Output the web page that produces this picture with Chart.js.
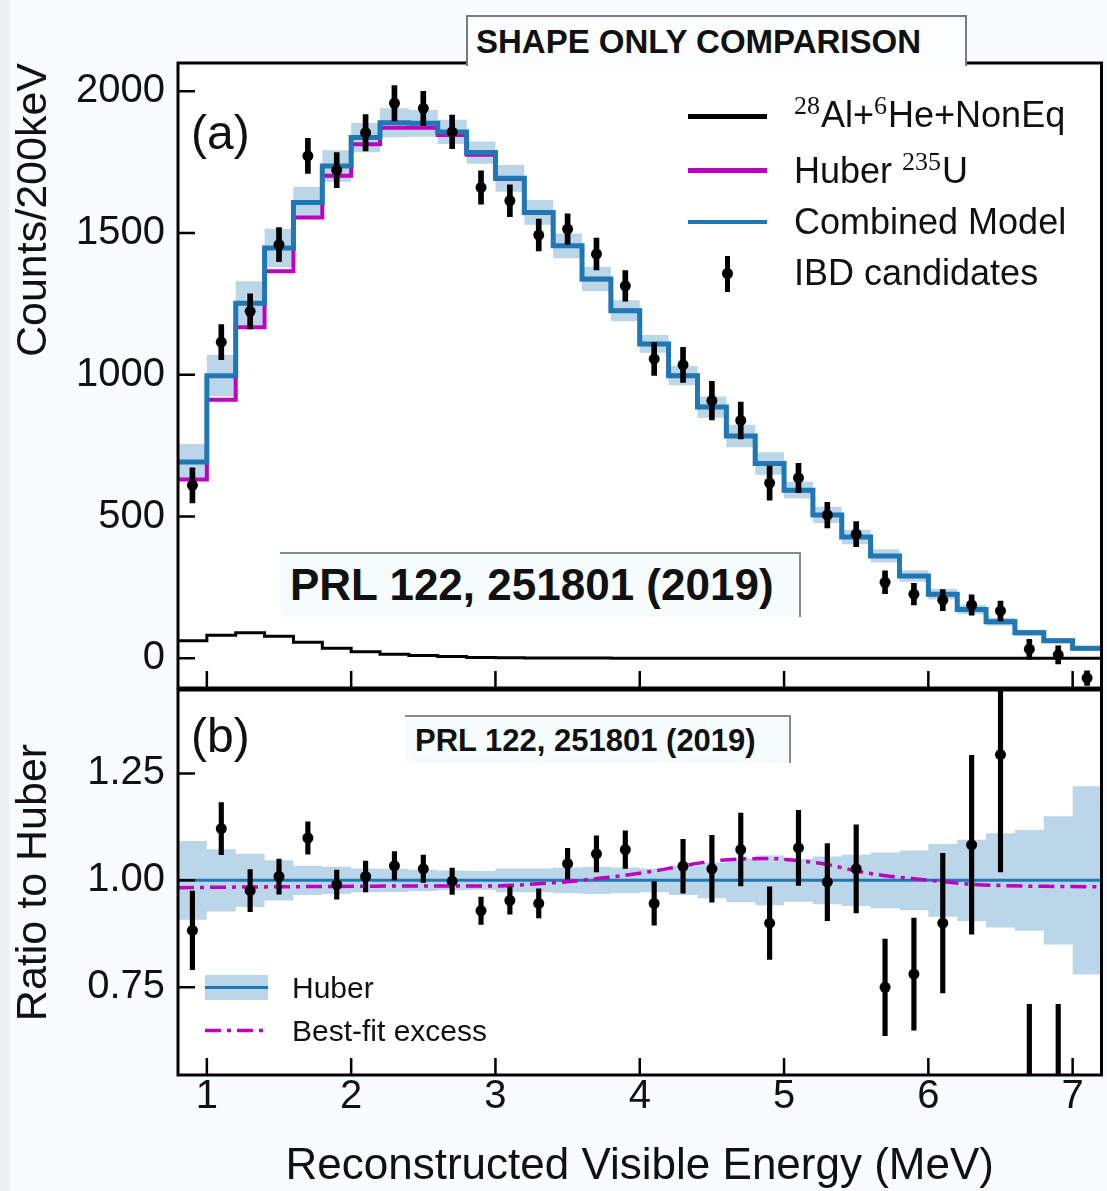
<!DOCTYPE html>
<html>
<head>
<meta charset="utf-8">
<title>Shape only comparison</title>
<script src="https://cdn.jsdelivr.net/npm/chart.js@4.4.1/dist/chart.umd.min.js"></script>
<style>
  html, body { margin: 0; padding: 0; }
  body {
    width: 1107px; height: 1191px; position: relative; overflow: hidden;
    background: #f8fcfe; color: #111;
    font-family: 'Liberation Sans', Arial, Helvetica, sans-serif;
  }
  canvas { position: absolute; left: 0; top: 0; }
  .edge { position: absolute; left: 0; top: 0; width: 9px; height: 1191px; background: #eceeef; }
  .txt { position: absolute; white-space: nowrap; line-height: 1; }
  .sup { font-family: 'Liberation Serif', 'Times New Roman', serif; font-size: 26px; position: relative; top: -13px; margin-right: 1px; }
  .box { position: absolute; background: #f7fdff; }
  .sw { position: absolute; }
</style>
</head>
<body>
<div class="edge"></div>
<canvas id="spectrumChart" width="1107" height="1191"></canvas>
<canvas id="ratioChart" width="1107" height="1191"></canvas>

<!-- panel headers and tags -->
<div class="box" style="left:466px; top:15px; width:497px; height:49px; background:#fbfeff; border:2px solid #7a7a7a; border-bottom:none;"></div>
<div class="txt" style="left:476px; top:25px; font-size:33px; font-weight:bold;">SHAPE ONLY COMPARISON</div>
<div class="txt" style="left:191px; top:109px; font-size:48px;">(a)</div>
<div class="txt" style="left:191px; top:712px; font-size:48px;">(b)</div>

<div class="box" style="left:280px; top:552px; width:519px; height:63px; border-top:2px solid #8a8a8a; border-right:2px solid #8a8a8a;"></div>
<div class="txt" style="left:290px; top:563px; font-size:44px; font-weight:bold;">PRL 122, 251801 (2019)</div>
<div class="box" style="left:405px; top:715px; width:384px; height:46px; border-top:2px solid #8a8a8a; border-right:2px solid #8a8a8a;"></div>
<div class="txt" style="left:415px; top:725px; font-size:31px; font-weight:bold;">PRL 122, 251801 (2019)</div>

<!-- legend, spectrum panel -->
<div class="sw" style="left:688px; top:114px; width:79px; height:5px; background:#000;"></div>
<div class="sw" style="left:688px; top:168px; width:79px; height:5px; background:#c000c0;"></div>
<div class="sw" style="left:688px; top:220px; width:79px; height:4px; background:#1f77b4;"></div>
<div class="sw" style="left:725px; top:256px; width:5px; height:36px; background:#000;"></div>
<div class="sw" style="left:722px; top:268px; width:11px; height:11px; border-radius:50%; background:#000;"></div>
<div class="txt" style="left:794px; top:97px; font-size:36px;"><span class="sup">28</span>Al+<span class="sup">6</span>He+NonEq</div>
<div class="txt" style="left:794px; top:153px; font-size:36px;">Huber <span class="sup">235</span>U</div>
<div class="txt" style="left:794px; top:204px; font-size:36px;">Combined Model</div>
<div class="txt" style="left:794px; top:255px; font-size:36px;">IBD candidates</div>

<!-- legend, ratio panel -->
<div class="sw" style="left:205px; top:975px; width:63px; height:25px; background:rgba(31,119,180,0.3);"></div>
<div class="sw" style="left:205px; top:986px; width:63px; height:3px; background:#1f77b4;"></div>
<svg class="sw" style="left:205px; top:1027px;" width="63" height="7"><line x1="0" y1="3.5" x2="63" y2="3.5" stroke="#c000c0" stroke-width="3.5" stroke-dasharray="16 6 4 6"/></svg>
<div class="txt" style="left:292px; top:973px; font-size:30px;">Huber</div>
<div class="txt" style="left:292px; top:1016px; font-size:30px;">Best-fit excess</div>

<script>
// 200 keV bins: lower edges plus the last upper edge
const binEdges = [0.8, 1.0, 1.2, 1.4, 1.6, 1.8, 2.0, 2.2, 2.4, 2.6, 2.8, 3.0, 3.2, 3.4, 3.6, 3.8,
                  4.0, 4.2, 4.4, 4.6, 4.8, 5.0, 5.2, 5.4, 5.6, 5.8, 6.0, 6.2, 6.4, 6.6, 6.8, 7.0, 7.2];
const binCenters = [0.9, 1.1, 1.3, 1.5, 1.7, 1.9, 2.1, 2.3, 2.5, 2.7, 2.9, 3.1, 3.3, 3.5, 3.7, 3.9,
                    4.1, 4.3, 4.5, 4.7, 4.9, 5.1, 5.3, 5.5, 5.7, 5.9, 6.1, 6.3, 6.5, 6.7, 6.9, 7.1];

// counts per bin
const bkgCounts   = [62, 81, 90, 78, 56, 35, 23, 14, 10, 6, 3, 2, 1, 1, 1, 0,
                     0, 0, 0, 0, 0, 0, 0, 0, 0, 0, 0, 0, 0, 0, 0, 0];
const huberCounts = [631, 912, 1168, 1365, 1555, 1702, 1813, 1872, 1872, 1846, 1776, 1691, 1572, 1454, 1337, 1226,
                     1109, 997, 886, 784, 687, 593, 505, 428, 361, 290, 226, 172, 129, 90, 62, 35];
const modelCounts = [692, 997, 1252, 1447, 1608, 1737, 1837, 1889, 1887, 1857, 1784, 1693, 1573, 1455, 1338, 1226,
                     1109, 997, 886, 784, 687, 593, 505, 428, 361, 290, 226, 172, 129, 90, 62, 35];
const ibdCounts   = [610, 1115, 1224, 1459, 1772, 1722, 1854, 1958, 1940, 1857, 1661, 1614, 1493, 1514, 1426, 1314,
                     1056, 1035, 909, 839, 618, 636, 505, 438, 268, 226, 205, 188, 167, 32, 12, -70];
const ibdErrors   = [62, 62, 62, 60, 62, 62, 64, 62, 60, 59, 59, 56, 56, 54, 56, 54,
                     58, 62, 68, 65, 60, 52, 45, 44, 40, 38, 37, 36, 35, 35, 32, 26];

// Huber model relative uncertainty per bin
const huberRelErr = [0.092, 0.073, 0.062, 0.047, 0.034, 0.032, 0.028, 0.027, 0.025, 0.023, 0.022, 0.028, 0.028, 0.030, 0.032, 0.030,
                     0.028, 0.034, 0.042, 0.051, 0.058, 0.050, 0.056, 0.060, 0.065, 0.070, 0.085, 0.095, 0.110, 0.118, 0.150, 0.220];

// data / model ratio
const ratioValues = [0.883, 1.121, 0.976, 1.009, 1.099, 0.990, 1.009, 1.034, 1.027, 0.998, 0.929, 0.953, 0.946, 1.039, 1.062, 1.072,
                     0.946, 1.033, 1.027, 1.072, 0.900, 1.076, 0.996, 1.027, 0.750, 0.781, 0.900, 1.083, 1.294, 0.33, 0.19, -2.0];
const ratioErrors = [0.092, 0.061, 0.049, 0.041, 0.038, 0.034, 0.036, 0.033, 0.032, 0.031, 0.032, 0.032, 0.034, 0.036, 0.042, 0.044,
                     0.051, 0.063, 0.078, 0.085, 0.085, 0.088, 0.090, 0.103, 0.113, 0.131, 0.163, 0.209, 0.274, 0.38, 0.52, 0.74];

// best-fit excess curve
const excessEnergy = [0.8, 1.5, 2.0, 2.5, 3.0, 3.3, 3.5, 3.7, 3.9, 4.1, 4.3, 4.5, 4.7, 4.9, 5.1, 5.3, 5.5, 5.7, 5.9, 6.1, 6.3, 6.5, 6.8, 7.2];
const excessRatio  = [0.983, 0.985, 0.986, 0.987, 0.987, 0.992, 0.997, 1.004, 1.012, 1.022, 1.034, 1.045, 1.050, 1.051, 1.046, 1.037,
                      1.022, 1.011, 1.004, 0.997, 0.991, 0.988, 0.986, 0.985];

// axis ticks
const energyTicks = [1, 2, 3, 4, 5, 6, 7];
const countTicks = [0, 500, 1000, 1500, 2000];
const ratioTicks = [0.75, 1.00, 1.25];

const FONT = "'Liberation Sans', Arial, Helvetica, sans-serif";
const BLUE = '#1f77b4';
const MAGENTA = '#c000c0';
const BAND = 'rgba(31,119,180,0.3)';

// histogram line: each value held from its lower edge to the next edge
function stepData(values) {
    return binEdges.map((x, i) => ({ x, y: values[Math.min(i, values.length - 1)] }));
}

function errorBars(values, errors) {
    return binCenters.map((x, i) => ({ x, y: [values[i] - errors[i], values[i] + errors[i]] }));
}

function dots(values) {
    return binCenters.map((x, i) => ({ x, y: values[i] }));
}

function stepLine(values, color, width, order) {
    return {
        data: stepData(values), stepped: true, borderColor: color, borderWidth: width,
        pointRadius: 0, fill: false, borderJoinStyle: 'miter', order
    };
}

// white plot area, black frame with inward ticks
const framePlugin = {
    id: 'frame',
    beforeDraw(chart) {
        const { ctx, chartArea: a } = chart;
        ctx.save();
        ctx.fillStyle = '#fff';
        ctx.fillRect(a.left, a.top, a.right - a.left, a.bottom - a.top);
        ctx.restore();
    },
    afterDraw(chart, args, opts) {
        const { ctx, chartArea: a, scales } = chart;
        ctx.save();
        ctx.strokeStyle = '#000';
        ctx.lineWidth = 2.5;
        ctx.beginPath();
        energyTicks.forEach(v => {
            const px = scales.x.getPixelForValue(v);
            ctx.moveTo(px, a.bottom);
            ctx.lineTo(px, a.bottom - 17);
        });
        opts.yTicks.forEach(v => {
            const py = scales.y.getPixelForValue(v);
            ctx.moveTo(a.left, py);
            ctx.lineTo(a.left + 17, py);
        });
        ctx.stroke();
        ctx.lineWidth = 3;
        ctx.strokeRect(a.left, a.top, a.right - a.left, a.bottom - a.top);
        ctx.restore();
    }
};

function yAxis(min, max, ticks, fmt, title, align) {
    return {
        type: 'linear', min, max,
        grid: { display: false, drawTicks: false },
        border: { display: false },
        afterBuildTicks: s => { s.ticks = ticks.map(v => ({ value: v })); },
        afterFit: s => { s.width = 178; },
        ticks: { font: { family: FONT, size: 40 }, color: '#111', padding: 13, callback: fmt },
        title: {
            display: true, text: title, align, color: '#111',
            font: { family: FONT, size: 43, lineHeight: 1 }, padding: { top: 13, bottom: 0 }
        }
    };
}

// Spectrum panel
new Chart(document.getElementById('spectrumChart'), {
    type: 'line',
    data: {
        datasets: [
            { data: stepData(modelCounts.map((v, i) => v * (1 - huberRelErr[i]))), stepped: true, borderWidth: 0, pointRadius: 0, fill: false, order: 10 },
            { data: stepData(modelCounts.map((v, i) => v * (1 + huberRelErr[i]))), stepped: true, borderWidth: 0, pointRadius: 0, fill: '-1', backgroundColor: BAND, order: 10 },
            stepLine(bkgCounts, '#000', 3, 8),
            stepLine(huberCounts, MAGENTA, 4, 7),
            stepLine(modelCounts, BLUE, 5, 6),
            { type: 'bar', data: errorBars(ibdCounts, ibdErrors), backgroundColor: '#000', barThickness: 5, order: 2 },
            { data: dots(ibdCounts), showLine: false, pointRadius: 5.5, pointBorderWidth: 0, pointBackgroundColor: '#000', order: 1 }
        ]
    },
    options: {
        responsive: false, animation: false, devicePixelRatio: 1,
        layout: { padding: { left: 0, right: 4, top: 63, bottom: 503 } },
        plugins: { legend: { display: false }, tooltip: { enabled: false }, frame: { yTicks: countTicks } },
        scales: {
            x: { type: 'linear', min: 0.8, max: 7.2, offset: false, display: false },
            y: yAxis(-105, 2100, countTicks, v => String(v), 'Counts/200keV', 'end')
        }
    },
    plugins: [framePlugin]
});

// Ratio panel
new Chart(document.getElementById('ratioChart'), {
    type: 'line',
    data: {
        datasets: [
            { data: stepData(huberRelErr.map(e => 1 - e)), stepped: true, borderWidth: 0, pointRadius: 0, fill: false, order: 10 },
            { data: stepData(huberRelErr.map(e => 1 + e)), stepped: true, borderWidth: 0, pointRadius: 0, fill: '-1', backgroundColor: BAND, order: 10 },
            { data: [{ x: 0.8, y: 1 }, { x: 7.2, y: 1 }], borderColor: BLUE, borderWidth: 3, pointRadius: 0, order: 5 },
            {
                data: excessEnergy.map((x, i) => ({ x, y: excessRatio[i] })), borderColor: MAGENTA, borderWidth: 3.5,
                borderDash: [16, 6, 4, 6], cubicInterpolationMode: 'monotone', pointRadius: 0, order: 4
            },
            { type: 'bar', data: errorBars(ratioValues, ratioErrors), backgroundColor: '#000', barThickness: 4.5, order: 2 },
            { data: dots(ratioValues), showLine: false, pointRadius: 5.5, pointBorderWidth: 0, pointBackgroundColor: '#000', order: 1 }
        ]
    },
    options: {
        responsive: false, animation: false, devicePixelRatio: 1,
        layout: { padding: { left: 0, right: 4, top: 690, bottom: 0 } },
        plugins: { legend: { display: false }, tooltip: { enabled: false }, frame: { yTicks: ratioTicks } },
        scales: {
            x: {
                type: 'linear', min: 0.8, max: 7.2, offset: false,
                grid: { display: false, drawTicks: false },
                border: { display: false },
                afterBuildTicks: s => { s.ticks = energyTicks.map(v => ({ value: v })); },
                afterFit: s => { s.height = 116; },
                ticks: { font: { family: FONT, size: 40, lineHeight: 1 }, color: '#111', padding: 2, maxRotation: 0 },
                title: {
                    display: true, text: 'Reconstructed Visible Energy (MeV)', color: '#111',
                    font: { family: FONT, size: 44, lineHeight: 1 }, padding: { top: 0, bottom: 2 }
                }
            },
            y: yAxis(0.545, 1.445, ratioTicks, v => v.toFixed(2), 'Ratio to Huber', 'center')
        }
    },
    plugins: [framePlugin]
});
</script>
</body>
</html>
